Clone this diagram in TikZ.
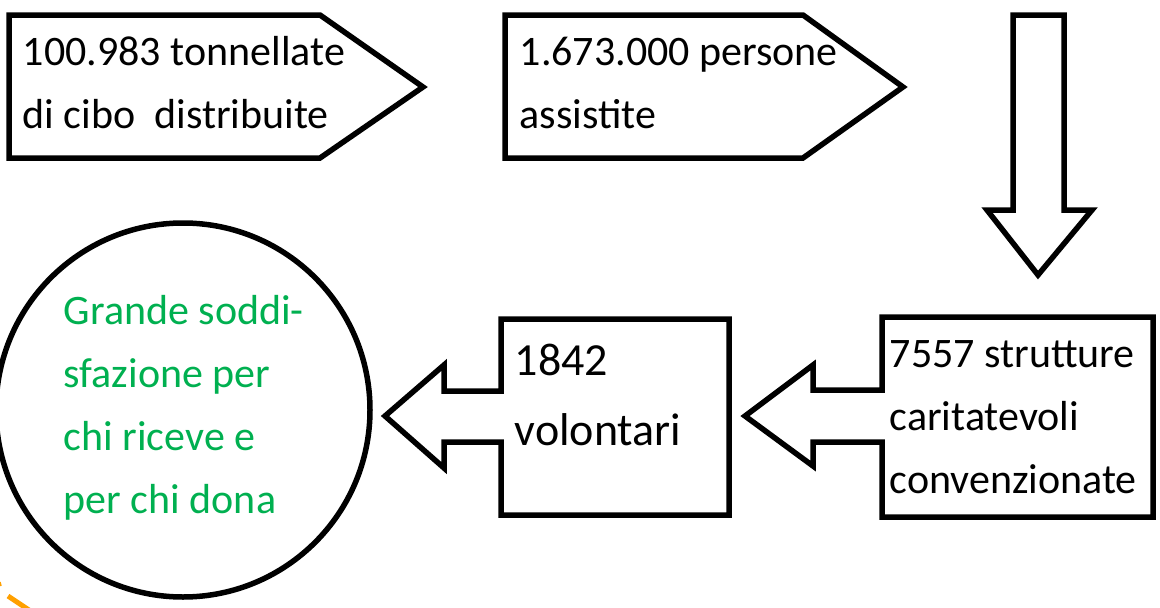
\documentclass[tikz,border=0pt]{standalone}
\usepackage{fontspec}
\setmainfont{Carlito}
\usepackage{xcolor}
\definecolor{givegreen}{HTML}{00B050}
\definecolor{ringorange}{HTML}{FFA000}

\begin{document}
\begin{tikzpicture}[
  x=1pt, y=-1pt,
  line width=5.5pt, line join=miter,
  shapeline/.style={draw=black, fill=white},
  boxtext/.style={anchor=base west, inner sep=0pt, align=left,
    font=\fontsize{42}{63}\selectfont}
]
  \useasboundingbox (0,0) rectangle (1160,608);

  % frecce a pentagono in alto
  \draw[shapeline] (9,15) -- (320,15) -- (423,87) -- (320,158) -- (9,158) -- cycle;
  \draw[shapeline] (505,15) -- (803,15) -- (903,87) -- (803,158) -- (505,158) -- cycle;

  % freccia verso il basso
  \draw[shapeline] (1013,15) -- (1064,15) -- (1064,210) -- (1092,210)
    -- (1038,275) -- (987,210) -- (1013,210) -- cycle;

  % riquadri con freccia a sinistra
  \draw[shapeline] (882,317) -- (1153,317) -- (1153,517) -- (882,517)
    -- (882,442) -- (813,442) -- (813,466) -- (745,416) -- (813,365)
    -- (813,390) -- (882,390) -- cycle;
  \draw[shapeline] (501,319) -- (729,319) -- (729,515) -- (501,515)
    -- (501,442) -- (444,442) -- (444,468) -- (385,416) -- (444,365)
    -- (444,391) -- (501,391) -- cycle;

  % cerchio finale
  \draw[shapeline] (183,410) circle[radius=187];
  \draw[ringorange, line width=5pt] (8,596) -- (32,612);
  \draw[ringorange, line width=1.5pt] (0,582) -- (1,586);

  % testi (ancorati alla linea di base dell'ultima riga)
  \node[boxtext] (cibo) at (20,128) {100.983 tonnellate\\di cibo\ \ distribuite};
  \node[boxtext] (persone) at (517,128) {1.673.000 persone\\assistite};
  \node[boxtext] (strutture) at (887,493) {7557 strutture\\caritatevoli\\convenzionate};
  \node[boxtext, font=\fontsize{46}{70}\selectfont] (volontari) at (512,445) {1842\\volontari};
  \node[boxtext, text=givegreen] (soddisfazione) at (61,513)
    {Grande soddi-\\sfazione per\\chi riceve e\\per chi dona};
\end{tikzpicture}
\end{document}
